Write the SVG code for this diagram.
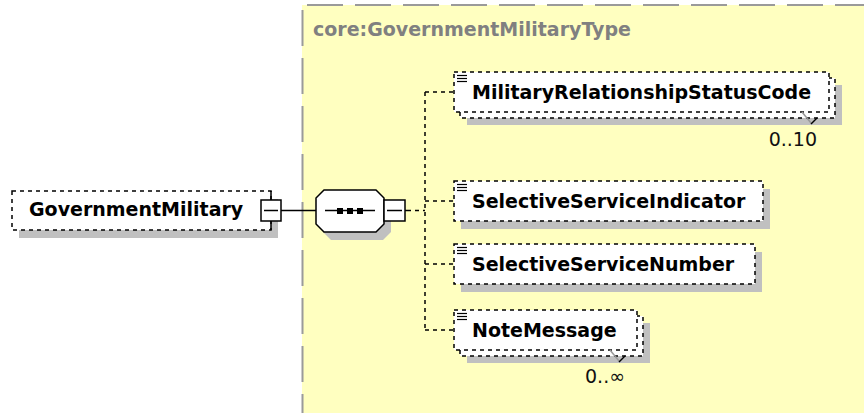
<svg xmlns="http://www.w3.org/2000/svg" width="864" height="413" viewBox="0 0 864 413">
<style>
.shadow{fill:#c0c0c0;stroke:none}
.box{fill:#ffffff;stroke:#000;stroke-width:1.5;stroke-dasharray:4 4}
.solid{fill:#ffffff;stroke:#000;stroke-width:1.5}
.name{font-family:"DejaVu Sans",sans-serif;font-weight:bold;font-size:19px;fill:#000}
.occ{font-family:"DejaVu Sans",sans-serif;font-size:19px;fill:#111}
.title{font-family:"DejaVu Sans",sans-serif;font-weight:bold;font-size:19px;fill:#808080}
.conn{stroke:#000;stroke-width:1.5;fill:none}
.dash{stroke-dasharray:4 4}
.icon{stroke:#000;stroke-width:1.2}
.border{stroke:#9a9a9a;stroke-width:2;stroke-dasharray:36 12;fill:none}
</style>
<defs>
<g id="ico"><line class="icon" x1="0" y1="0.5" x2="10" y2="0.5"/><line class="icon" x1="0" y1="3.5" x2="10" y2="3.5"/><line class="icon" x1="0" y1="6.5" x2="10" y2="6.5"/></g>
</defs>
<g id="complexType">
<rect x="302" y="5" width="562" height="408" fill="#ffffc0"/>
<line class="border" x1="307" y1="5" x2="864" y2="5"/>
<line class="border" x1="302.5" y1="10" x2="302.5" y2="413"/>
<text class="title" x="313" y="36">core:GovernmentMilitaryType</text>
</g>
<g id="connectors">
<line class="conn" x1="281" y1="210.5" x2="316" y2="210.5"/>
<line class="conn" x1="405" y1="210.5" x2="411" y2="210.5"/>
<line class="conn dash" x1="415" y1="210.5" x2="425" y2="210.5"/>
<line class="conn dash" x1="425" y1="92" x2="425" y2="330"/>
<line class="conn dash" x1="425" y1="92" x2="454" y2="92"/>
<line class="conn dash" x1="425" y1="201" x2="454" y2="201"/>
<line class="conn dash" x1="425" y1="264" x2="454" y2="264"/>
<line class="conn dash" x1="425" y1="330" x2="454" y2="330"/>
</g>
<g id="GovernmentMilitary">
<rect class="shadow" x="19" y="199" width="259" height="39"/>
<rect class="box" x="12" y="191" width="259" height="39"/>
<text class="name" x="29" y="216">GovernmentMilitary</text>
<line class="conn" x1="271" y1="191" x2="271" y2="230"/>
<rect class="solid" x="261" y="200" width="20" height="21"/>
<line class="conn" x1="264" y1="210.5" x2="278" y2="210.5"/>
</g>
<g id="sequence">
<polygon class="shadow" points="331,198 383,198 391,206 391,232 383,240 331,240 323,232 323,206"/>
<polygon class="solid" points="324,190 376,190 384,198 384,224 376,232 324,232 316,224 316,198"/>
<line class="conn" x1="325" y1="210.5" x2="375" y2="210.5"/>
<rect x="337" y="208" width="6" height="6" fill="#000"/>
<rect x="347" y="208" width="6" height="6" fill="#000"/>
<rect x="357" y="208" width="6" height="6" fill="#000"/>
<rect class="solid" x="384" y="200" width="21" height="21"/>
<line class="conn" x1="387" y1="210.5" x2="402" y2="210.5"/>
</g>
<g id="MilitaryRelationshipStatusCode">
<rect class="shadow" x="467" y="85" width="375" height="40"/>
<rect class="box" x="460" y="78" width="375" height="40"/>
<rect class="box" x="454" y="72" width="375" height="40"/>
<use href="#ico" x="457" y="75"/>
<text class="name" x="472" y="99">MilitaryRelationshipStatusCode</text>
<line x1="802" y1="112" x2="811" y2="123" stroke="#999" stroke-width="1.5"/>
<line x1="811" y1="124" x2="817" y2="118" stroke="#000" stroke-width="1.5"/>
<text class="occ" x="817" y="146" text-anchor="end">0..10</text>
</g>
<g id="SelectiveServiceIndicator">
<rect class="shadow" x="461" y="189" width="309" height="40"/>
<rect class="box" x="454" y="181" width="309" height="40"/>
<use href="#ico" x="457" y="184"/>
<text class="name" x="472" y="208">SelectiveServiceIndicator</text>
</g>
<g id="SelectiveServiceNumber">
<rect class="shadow" x="461" y="252" width="301" height="40"/>
<rect class="box" x="454" y="244" width="301" height="40"/>
<use href="#ico" x="457" y="247"/>
<text class="name" x="472" y="271">SelectiveServiceNumber</text>
</g>
<g id="NoteMessage">
<rect class="shadow" x="467" y="323" width="183" height="40"/>
<rect class="box" x="460" y="316" width="183" height="40"/>
<rect class="box" x="454" y="310" width="183" height="40"/>
<use href="#ico" x="457" y="313"/>
<text class="name" x="472" y="337">NoteMessage</text>
<line x1="610" y1="350" x2="619" y2="361" stroke="#999" stroke-width="1.5"/>
<line x1="619" y1="362" x2="625" y2="356" stroke="#000" stroke-width="1.5"/>
<text class="occ" x="625" y="383" text-anchor="end">0..∞</text>
</g>
</svg>
